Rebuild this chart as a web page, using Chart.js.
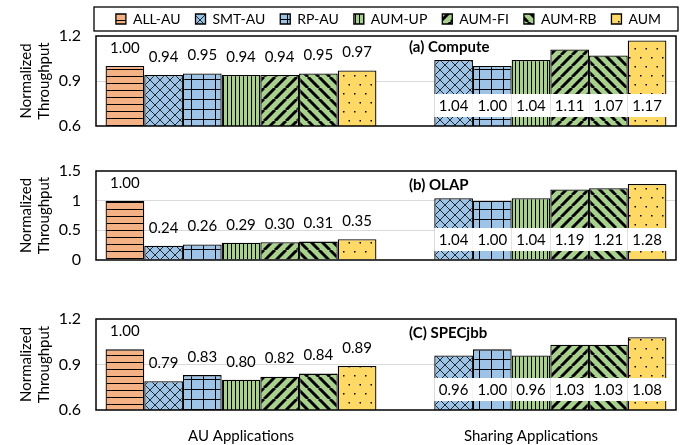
<!DOCTYPE html>
<html>
<head>
<meta charset="utf-8">
<script src="https://cdn.jsdelivr.net/npm/chart.js@4.4.0/dist/chart.umd.min.js"></script>
<style>
    body { margin: 0; background: #fff; width: 697px; height: 445px; position: relative; overflow: hidden; }
    canvas { position: absolute; left: 0; }
</style>
</head>
<body>
<canvas id="computeChart" width="697" height="135" style="top:0px"></canvas>
<canvas id="olapChart" width="697" height="130" style="top:140px"></canvas>
<canvas id="specChart" width="697" height="145" style="top:300px"></canvas>
<script>
// Data
const groups = ['AU Applications', 'Sharing Applications'];
const seriesNames = ['ALL-AU', 'SMT-AU', 'RP-AU', 'AUM-UP', 'AUM-FI', 'AUM-RB', 'AUM'];

const computeAU = [1.00, 0.94, 0.95, 0.94, 0.94, 0.95, 0.97];
const computeSharing = [0, 1.04, 1.00, 1.04, 1.11, 1.07, 1.17];

const olapAU = [1.00, 0.24, 0.26, 0.29, 0.30, 0.31, 0.35];
const olapSharing = [0, 1.04, 1.00, 1.04, 1.19, 1.21, 1.28];

const specAU = [1.00, 0.79, 0.83, 0.80, 0.82, 0.84, 0.89];
const specSharing = [0, 0.96, 1.00, 0.96, 1.03, 1.03, 1.08];

const computeTicks = [0.6, 0.9, 1.2];
const olapTicks = [0, 0.5, 1, 1.5];
const specTicks = [0.6, 0.9, 1.2];

const FONT = 'Lato';

// Fill patterns
function makePattern(bg, w, h, draw) {
    const tile = document.createElement('canvas');
    tile.width = w;
    tile.height = h;
    const g = tile.getContext('2d');
    g.fillStyle = bg;
    g.fillRect(0, 0, w, h);
    g.strokeStyle = '#000';
    g.fillStyle = '#000';
    draw(g, w, h);
    return g.createPattern(tile, 'repeat');
}

const patterns = [
    makePattern('#F4B183', 7, 7, g => {
        g.lineWidth = 1;
        g.beginPath(); g.moveTo(0, 6.5); g.lineTo(7, 6.5); g.stroke();
    }),
    makePattern('#9DC3E6', 10, 10, g => {
        g.lineWidth = 0.8;
        g.beginPath();
        g.moveTo(0, 0); g.lineTo(10, 10);
        g.moveTo(10, 0); g.lineTo(0, 10);
        g.stroke();
    }),
    makePattern('#9DC3E6', 12, 10, g => {
        g.lineWidth = 1;
        g.beginPath();
        g.moveTo(11.5, 0); g.lineTo(11.5, 10);
        g.moveTo(0, 9.5); g.lineTo(12, 9.5);
        g.stroke();
    }),
    makePattern('#A9D18E', 4, 4, g => {
        g.lineWidth = 1;
        g.beginPath(); g.moveTo(3.5, 0); g.lineTo(3.5, 4); g.stroke();
    }),
    makePattern('#A9D18E', 11, 11, g => {
        g.lineWidth = 3;
        g.beginPath();
        for (const o of [-11, 0, 11]) { g.moveTo(o, 11); g.lineTo(o + 11, 0); }
        g.stroke();
    }),
    makePattern('#A9D18E', 11, 11, g => {
        g.lineWidth = 3;
        g.beginPath();
        for (const o of [-11, 0, 11]) { g.moveTo(o, 0); g.lineTo(o + 11, 11); }
        g.stroke();
    }),
    makePattern('#FFD966', 11, 18, g => {
        g.fillRect(2, 3, 1.5, 1.5);
        g.fillRect(7.5, 12, 1.5, 1.5);
    })
];

function buildDatasets(au, sharing) {
    return seriesNames.map((name, i) => ({
        label: name,
        data: [au[i], sharing[i]],
        backgroundColor: patterns[i],
        borderColor: '#000',
        borderWidth: 1.3,
        categoryPercentage: 0.934,
        barPercentage: 1.0
    }));
}

// Plugins
const valueLabels = {
    id: 'valueLabels',
    afterDatasetsDraw(chart) {
        const ctx = chart.ctx;
        const area = chart.chartArea;
        const n = chart.data.datasets.length;
        ctx.save();
        // white band behind the sharing labels
        chart.data.datasets.forEach((ds, i) => {
            const bar = chart.getDatasetMeta(i).data[1];
            if (!ds.data[1]) return;
            const left = bar.x - bar.width / 2;
            const right = i === n - 1 ? area.right - 1 : bar.x + bar.width / 2;
            ctx.fillStyle = '#fff';
            ctx.fillRect(left, area.bottom - 32, right - left, 23);
        });
        ctx.font = '15px ' + FONT;
        ctx.fillStyle = '#000';
        ctx.textAlign = 'center';
        ctx.textBaseline = 'middle';
        chart.data.datasets.forEach((ds, i) => {
            const meta = chart.getDatasetMeta(i);
            meta.data.forEach((bar, j) => {
                const v = ds.data[j];
                if (!v) return;
                if (j === 0) {
                    ctx.fillText(v.toFixed(2), bar.x, bar.y - 18);
                } else {
                    ctx.fillText(v.toFixed(2), bar.x, area.bottom - 20);
                }
            });
        });
        ctx.restore();
    }
};

const panelFrame = {
    id: 'panelFrame',
    afterDraw(chart, args, opts) {
        const ctx = chart.ctx;
        const area = chart.chartArea;
        ctx.save();
        ctx.strokeStyle = '#000';
        ctx.lineWidth = 1.5;
        ctx.strokeRect(area.left, area.top, area.right - area.left, area.bottom - area.top);
        if (opts.text) {
            ctx.font = 'bold 15px ' + FONT;
            ctx.fillStyle = '#000';
            ctx.textAlign = 'left';
            ctx.textBaseline = 'middle';
            ctx.fillText(opts.text, area.left + opts.dx, area.top + opts.dy);
        }
        if (chart.options.plugins.legend.display) {
            const box = chart.legend.legendHitBoxes[0];
            const cy = box.top + box.height / 2;
            ctx.lineWidth = 1.3;
            ctx.strokeRect(area.left - 2, cy - 12, area.right - area.left + 4, 24);
        }
        ctx.restore();
    }
};

function makeChart(id, au, sharing, ticks, opts) {
    const ctx = document.getElementById(id).getContext('2d');
    return new Chart(ctx, {
        type: 'bar',
        data: {
            labels: groups,
            datasets: buildDatasets(au, sharing)
        },
        options: {
            responsive: false,
            animation: false,
            layout: { padding: opts.padding },
            plugins: {
                legend: {
                    display: opts.legend,
                    align: 'end',
                    labels: {
                        font: { family: FONT, size: 14 },
                        color: '#000',
                        boxWidth: 10,
                        boxHeight: 10,
                        padding: 15
                    }
                },
                tooltip: { enabled: false },
                panelFrame: { text: opts.title, dx: 313, dy: opts.titleDy }
            },
            scales: {
                x: {
                    grid: { display: false },
                    border: { display: false },
                    ticks: {
                        display: opts.showX,
                        font: { family: FONT, size: 15 },
                        color: '#000',
                        padding: 9
                    },
                    afterFit: s => { s.height = opts.xHeight; }
                },
                y: {
                    min: ticks[0],
                    max: ticks[ticks.length - 1],
                    afterBuildTicks: s => { s.ticks = ticks.map(v => ({ value: v })); },
                    afterFit: s => {
                        s.width = 96;
                        s.paddingTop = 0;
                        s.paddingBottom = 0;
                    },
                    border: { display: false },
                    grid: {
                        drawTicks: false,
                        color: c => (c.index === 0 || c.index === ticks.length - 1) ? 'rgba(0,0,0,0)' : '#d9d9d9',
                        lineWidth: 1
                    },
                    ticks: {
                        font: { family: FONT, size: 16 },
                        color: '#000',
                        padding: 15,
                        callback: opts.fmt
                    },
                    title: {
                        display: true,
                        text: ['Normalized', 'Throughput'],
                        font: { family: FONT, size: 15 },
                        color: '#000',
                        padding: { top: 17, bottom: 0 }
                    }
                }
            }
        },
        plugins: [valueLabels, panelFrame]
    });
}

document.fonts.load('15px Lato').then(() => {
    // Compute panel
    makeChart('computeChart', computeAU, computeSharing, computeTicks, {
        legend: true, showX: false, xHeight: 9, title: '(a) Compute', titleDy: 11,
        padding: { top: -3, bottom: 0, right: 21, left: 0 },
        fmt: v => v.toFixed(1)
    });
    // OLAP panel
    makeChart('olapChart', olapAU, olapSharing, olapTicks, {
        legend: false, showX: false, xHeight: 10, title: '(b) OLAP', titleDy: 14,
        padding: { top: 31, bottom: 0, right: 21, left: 0 },
        fmt: v => String(v)
    });
    // SPECjbb panel
    makeChart('specChart', specAU, specSharing, specTicks, {
        legend: false, showX: true, xHeight: 35, title: '(C) SPECjbb', titleDy: 14,
        padding: { top: 19, bottom: 0, right: 21, left: 0 },
        fmt: v => v.toFixed(1)
    });
});
</script>
</body>
</html>
